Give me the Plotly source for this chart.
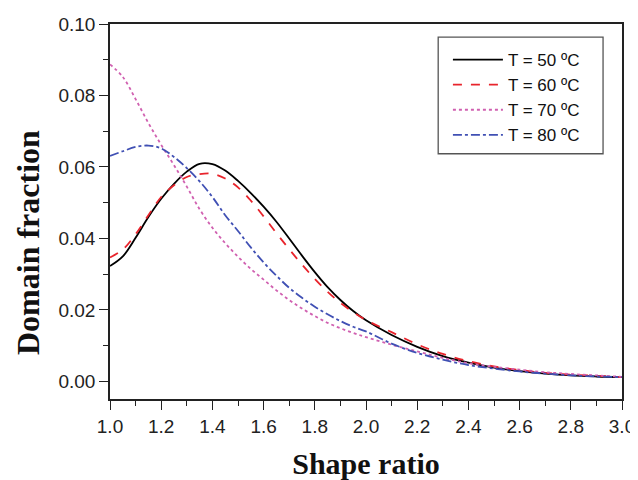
import plotly.graph_objects as go

x_vals = [1.00, 1.05, 1.10, 1.15, 1.20, 1.25, 1.30, 1.35, 1.40, 1.45, 1.50,
          1.55, 1.60, 1.65, 1.70, 1.75, 1.80, 1.85, 1.90, 1.95, 2.00,
          2.1, 2.2, 2.3, 2.4, 2.5, 2.6, 2.7, 2.8, 2.9, 3.0]

t50 = [0.0323, 0.0350, 0.0402, 0.0460, 0.0511, 0.0553, 0.0587, 0.0609, 0.0608, 0.0590, 0.0561,
       0.0527, 0.0489, 0.0447, 0.0400, 0.0352, 0.0306, 0.0264, 0.0228, 0.0197, 0.0171,
       0.0130, 0.0097, 0.0071, 0.0053, 0.0039, 0.0029, 0.0022, 0.0017, 0.0014, 0.0012]

t60 = [0.0347, 0.0369, 0.0412, 0.0465, 0.0516, 0.0549, 0.0572, 0.0580, 0.0581, 0.0568, 0.0543,
       0.0506, 0.0462, 0.0415, 0.0370, 0.0327, 0.0287, 0.0251, 0.0220, 0.0194, 0.0172,
       0.0138, 0.0104, 0.0077, 0.0057, 0.0042, 0.0032, 0.0024, 0.0019, 0.0016, 0.0012]

t70 = [0.0887, 0.0852, 0.0790, 0.0723, 0.0662, 0.0605, 0.0545, 0.0482, 0.0430, 0.0387, 0.0349,
       0.0315, 0.0285, 0.0255, 0.0228, 0.0204, 0.0183, 0.0164, 0.0149, 0.0136, 0.0124,
       0.0103, 0.0084, 0.0066, 0.0051, 0.0041, 0.0033, 0.0026, 0.0021, 0.0017, 0.0013]

t80 = [0.0631, 0.0644, 0.0656, 0.0660, 0.0652, 0.0628, 0.0597, 0.0560, 0.0516, 0.0465, 0.0421,
       0.0375, 0.0333, 0.0296, 0.0262, 0.0234, 0.0209, 0.0188, 0.0169, 0.0153, 0.0140,
       0.0106, 0.0080, 0.0061, 0.0046, 0.0036, 0.0028, 0.0022, 0.0017, 0.0014, 0.0012]

series_names = ["T = 50 ºC", "T = 60 ºC", "T = 70 ºC", "T = 80 ºC"]
series_data = [t50, t60, t70, t80]
colors = ["#000000", "#e8242c", "#d060b0", "#4050b4"]
dashes = ["solid", "dash", "dot", "dashdot"]

x_title = "Shape ratio"
y_title = "Domain fraction"

fig = go.Figure()
for name, ys, c, d in zip(series_names, series_data, colors, dashes):
    fig.add_trace(go.Scatter(x=x_vals, y=ys, mode="lines", name=name,
                             line=dict(color=c, width=1.8, dash=d, shape="spline")))

axis_common = dict(
    showline=True, linecolor="#222", linewidth=1.5, mirror=True,
    ticks="outside", ticklen=9, tickwidth=1.3, tickcolor="#222",
    showgrid=False, zeroline=False, automargin=False,
    tickfont=dict(family="Liberation Sans, Arial", size=19, color="#222"),
)

# legend frame
fig.add_shape(type="rect", xref="paper", yref="paper",
              x0=0.641, x1=0.963, y0=0.654, y1=0.965,
              line=dict(color="#555", width=1.3), fillcolor="rgba(0,0,0,0)")

# y-axis title (placed below the plot centre, as in the original)
fig.add_annotation(text=y_title, xref="paper", yref="paper", x=0, y=0.416,
                   xanchor="center", yanchor="middle", xshift=-82, textangle=-90,
                   showarrow=False,
                   font=dict(family="Liberation Serif, Times New Roman", size=32,
                             color="#111", weight="bold"))

fig.update_layout(
    width=630, height=472,
    paper_bgcolor="white", plot_bgcolor="white",
    margin=dict(l=102, r=16, t=16, b=81),
    xaxis=dict(range=[1.0, 3.0], dtick=0.2, tickformat=".1f",
               minor=dict(ticks="outside", ticklen=5, dtick=0.1, tickcolor="#222"),
               title=dict(text=x_title, standoff=18,
                          font=dict(family="Liberation Serif, Times New Roman", size=30, color="#111", weight="bold")),
               **axis_common),
    yaxis=dict(range=[-0.0049, 0.10], tick0=0, dtick=0.02, tickformat=".2f",
               minor=dict(ticks="outside", ticklen=5, dtick=0.01, tick0=0, tickcolor="#222"),
               **axis_common),
    legend=dict(x=0.66, y=0.952, xanchor="left", yanchor="top",
                borderwidth=0, bgcolor="rgba(0,0,0,0)",
                font=dict(family="Liberation Sans, Arial", size=17, color="#111"),
                itemwidth=50, tracegroupgap=0),
    showlegend=True,
)

fig.write_html("out.html")
